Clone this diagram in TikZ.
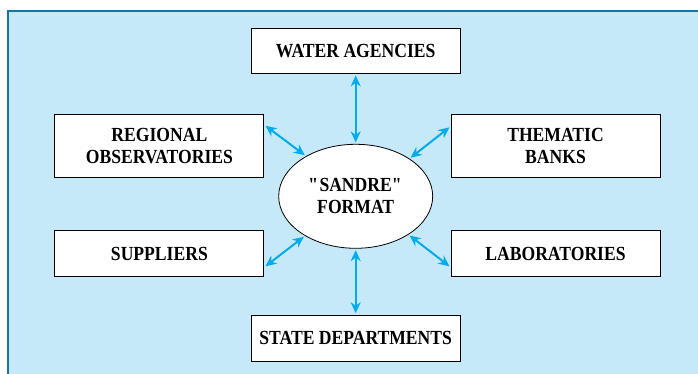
\documentclass[tikz,border=0pt]{standalone}
\usepackage{fontspec}
\setmainfont[FakeStretch=0.88]{Liberation Serif}
\usetikzlibrary{positioning, arrows.meta, shapes.geometric}
\definecolor{paleblue}{RGB}{198,233,249}
\definecolor{edgeblue}{RGB}{22,118,160}
\definecolor{arrowblue}{RGB}{0,172,236}

\begin{document}
\begin{tikzpicture}[x=1pt, y=1pt,
    box/.style={draw, fill=white, line width=0.8pt, minimum width=209pt, minimum height=46pt,
      inner xsep=2pt, align=center, font=\fontsize{20}{22}\selectfont\bfseries},
    link/.style={draw=arrowblue, line width=2pt,
      {Stealth[length=11pt, width=10pt]}-{Stealth[length=11pt, width=10pt]},
      shorten <=1.5pt, shorten >=1.5pt}]
    \useasboundingbox (-355.7,-177.7) rectangle (342.3,196.3);
    \fill[paleblue] (-347.7,-177.7) rectangle (342.3,185.3);
    \draw[edgeblue, line width=1.2pt] (-347.7,-177.7) -- (-347.7,185.3) -- (342.3,185.3);
    \node[ellipse, draw, fill=white, line width=0.8pt, minimum width=154pt, minimum height=104pt,
      align=center, font=\fontsize{20}{22}\selectfont\bfseries] (fmt)
      {\textquotedbl SANDRE\textquotedbl\\FORMAT};
    \node[box, minimum height=45pt, above=70pt of fmt] (water) {WATER AGENCIES};
    \node[box, below=66pt of fmt] (state) {STATE DEPARTMENTS};
    \node[box, minimum height=63pt, left=14pt of fmt, yshift=50.5pt] (reg) {REGIONAL\\OBSERVATORIES};
    \node[box, minimum height=63pt, right=17.5pt of fmt, yshift=50.5pt] (them) {THEMATIC\\BANKS};
    \node[box, left=14pt of fmt, yshift=-57.5pt] (sup) {SUPPLIERS};
    \node[box, right=17.5pt of fmt, yshift=-57.5pt] (labs) {LABORATORIES};
    \draw[link] (water) -- (fmt);
    \draw[link] (state) -- (fmt);
    \draw[link] ([yshift=-11pt]reg.north east) -- (fmt.141);
    \draw[link] ([yshift=-12.5pt]them.north west) -- (fmt.35);
    \draw[link] ([yshift=10pt]sup.south east) -- (fmt.218);
    \draw[link] ([yshift=10pt]labs.south west) -- (fmt.324);
\end{tikzpicture}
\end{document}
